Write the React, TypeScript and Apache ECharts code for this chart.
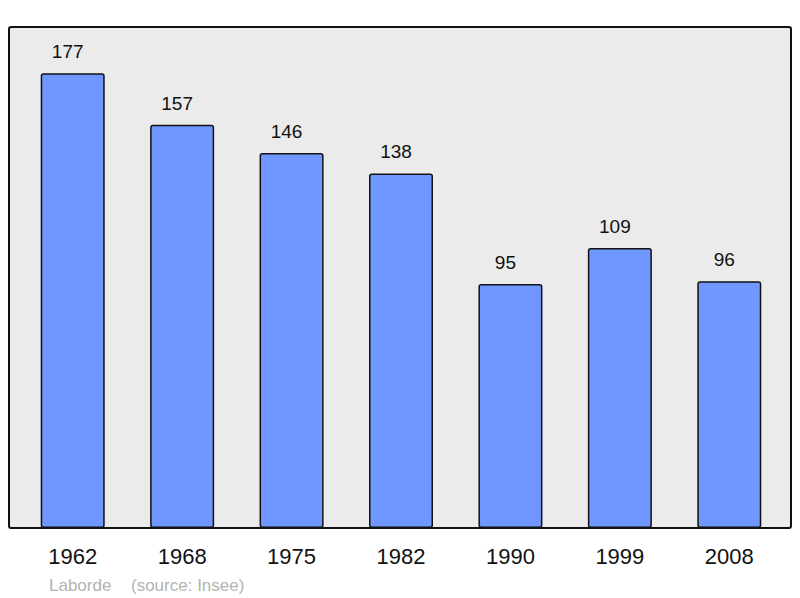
import React, { useEffect, useRef } from "react";
import * as echarts from "echarts";

const years = ["1962", "1968", "1975", "1982", "1990", "1999", "2008"];
const population = [177, 157, 146, 138, 95, 109, 96];
const placeName = "Laborde";
const sourceText = "(source: Insee)";

export default function App() {
  const ref = useRef<HTMLDivElement>(null);
  useEffect(() => {
    document.body.style.margin = "0";
    const chart = echarts.init(ref.current!, null, { renderer: "svg" });
    chart.setOption({
      animation: false,
      textStyle: { fontFamily: "Liberation Sans, Arial, sans-serif" },
      graphic: [
        {
          type: "rect",
          z: -10,
          shape: { x: 9, y: 27, width: 782, height: 501, r: 2 },
          style: { fill: "#ebebeb", stroke: "#111", lineWidth: 2 },
        },
        {
          type: "text",
          x: 49,
          y: 585,
          style: {
            text: placeName,
            fill: "#b3b3b3",
            fontSize: 17,
            fontFamily: "Liberation Sans, Arial, sans-serif",
            verticalAlign: "middle",
          },
        },
        {
          type: "text",
          x: 131,
          y: 585,
          style: {
            text: sourceText,
            fill: "#b3b3b3",
            fontSize: 17,
            fontFamily: "Liberation Sans, Arial, sans-serif",
            verticalAlign: "middle",
          },
        },
      ],
      grid: { left: 18, right: 16, top: 27, bottom: 70, containLabel: false },
      xAxis: {
        type: "category",
        data: years,
        axisLine: { show: false },
        axisTick: { show: false },
        axisLabel: {
          color: "#111",
          fontSize: 22,
          margin: 17,
          fontFamily: "Liberation Sans, Arial, sans-serif",
        },
      },
      yAxis: {
        type: "value",
        min: 0,
        max: 195,
        show: false,
        splitLine: { show: false },
      },
      series: [
        {
          type: "bar",
          data: population,
          barWidth: 64,
          itemStyle: {
            color: "#7096ff",
            borderColor: "#111",
            borderWidth: 1.5,
            borderRadius: 2,
          },
          label: {
            show: true,
            position: "top",
            distance: 12,
            offset: [-5, 0],
            color: "#111",
            fontSize: 19,
            fontFamily: "Liberation Sans, Arial, sans-serif",
          },
        },
      ],
    });
    return () => chart.dispose();
  }, []);
  return <div ref={ref} style={{ width: 800, height: 598 }} />;
}
